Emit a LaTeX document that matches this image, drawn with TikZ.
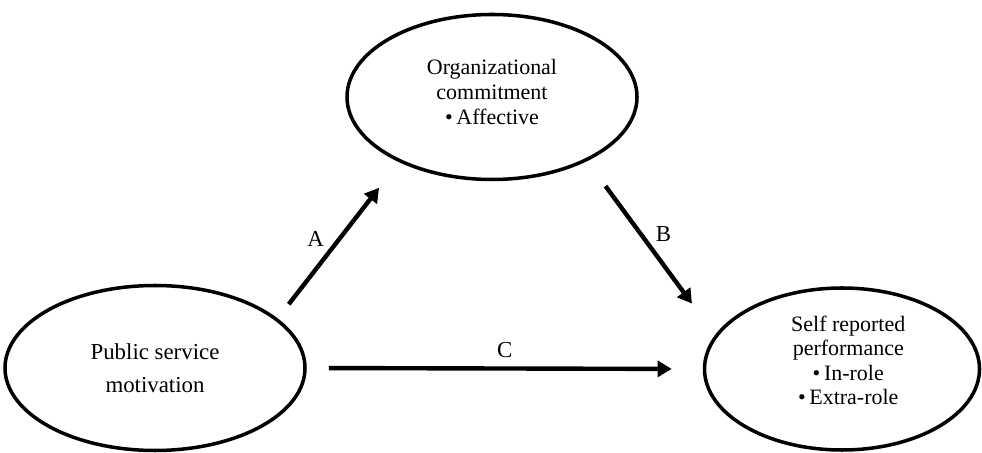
\documentclass[tikz,border=0pt]{standalone}
\usepackage{fontspec}
\setmainfont{Liberation Serif}
\usetikzlibrary{shapes, arrows.meta, positioning}

\begin{document}
\begin{tikzpicture}[
  construct/.style={ellipse, draw, line width=2pt, inner sep=0pt, align=center},
  path arrow/.style={-{Triangle[length=8pt,width=9pt]}, line width=2.5pt},
  path label/.style={font=\fontsize{13}{15}\selectfont}
]
  \useasboundingbox (0,0) rectangle (19.64,9.04);
  \node[construct, minimum width=5.8cm, minimum height=3.3cm,
        font=\fontsize{12.5}{14.3}\selectfont] (oc) at (9.84,7.10)
        {Organizational\\commitment\\\textbullet\,Affective\\[-8.7pt]};
  \node[construct, minimum width=6.0cm, minimum height=3.3cm,
        font=\fontsize{13}{18.7}\selectfont] (psm) at (3.10,1.68)
        {Public service\\motivation};
  \node[construct, minimum width=5.5cm, minimum height=3.24cm,
        font=\fontsize{12.5}{13.8}\selectfont] (srp) at (16.84,1.66)
        {\hspace{0.25cm}Self reported\\\hspace{0.25cm}performance\\\hspace{0.25cm}\textbullet\,In-role\\\hspace{0.25cm}\textbullet\,Extra-role\\[-4pt]};

  \draw[path arrow, shorten <=0.36cm, shorten >=0.65cm] (psm.22) -- (oc.215)
     node[path label, pos=0.51, xshift=-0.48cm] {A};
  \draw[path arrow, shorten <=0.62cm, shorten >=0.78cm] (oc.-34.4) -- (srp.165)
     node[path label, pos=0.42, xshift=0.45cm] {B};
  \draw[path arrow, shorten <=0.44cm, shorten >=0.62cm] (psm.east) -- (srp.west)
     node[path label, midway, yshift=0.36cm] {C};
\end{tikzpicture}
\end{document}
